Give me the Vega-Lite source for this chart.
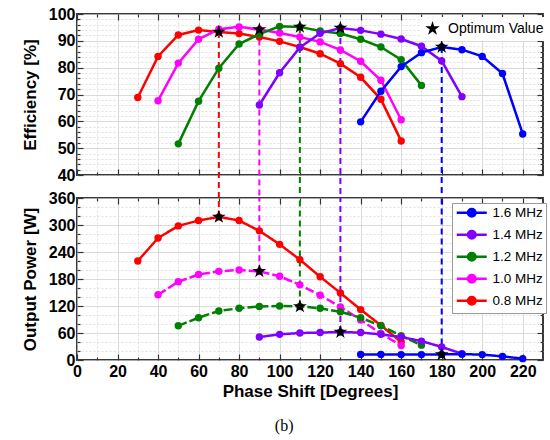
{
  "$schema": "https://vega.github.io/schema/vega-lite/v6.json",
  "padding": {"left": 20, "top": 5, "right": 4, "bottom": 5},
  "bounds": "flush",
  "spacing": 23,
  "title": {"text": "(b)", "orient": "bottom", "font": "Liberation Serif", "fontSize": 16, "fontWeight": "normal", "color": "black", "offset": 18, "anchor": "middle"},
  "datasets": {
    "d": [
      {"f": "0.8 MHz", "ph": 30, "eff": 68.9, "pw": 220},
      {"f": "0.8 MHz", "ph": 40, "eff": 84.2, "pw": 271},
      {"f": "0.8 MHz", "ph": 50, "eff": 92.2, "pw": 298},
      {"f": "0.8 MHz", "ph": 60, "eff": 94.0, "pw": 310},
      {"f": "0.8 MHz", "ph": 70, "eff": 93.3, "pw": 318},
      {"f": "0.8 MHz", "ph": 80, "eff": 92.7, "pw": 310},
      {"f": "0.8 MHz", "ph": 90, "eff": 91.4, "pw": 287},
      {"f": "0.8 MHz", "ph": 100, "eff": 89.8, "pw": 257},
      {"f": "0.8 MHz", "ph": 110, "eff": 87.7, "pw": 223},
      {"f": "0.8 MHz", "ph": 120, "eff": 85.2, "pw": 185},
      {"f": "0.8 MHz", "ph": 130, "eff": 81.5, "pw": 149},
      {"f": "0.8 MHz", "ph": 140, "eff": 76.4, "pw": 112},
      {"f": "0.8 MHz", "ph": 150, "eff": 68.2, "pw": 77},
      {"f": "0.8 MHz", "ph": 160, "eff": 52.7, "pw": 40},
      {"f": "1.0 MHz", "ph": 40, "eff": 67.7, "pw": 145},
      {"f": "1.0 MHz", "ph": 50, "eff": 81.7, "pw": 174},
      {"f": "1.0 MHz", "ph": 60, "eff": 90.6, "pw": 190},
      {"f": "1.0 MHz", "ph": 70, "eff": 94.3, "pw": 197},
      {"f": "1.0 MHz", "ph": 80, "eff": 95.2, "pw": 200},
      {"f": "1.0 MHz", "ph": 90, "eff": 94.2, "pw": 197},
      {"f": "1.0 MHz", "ph": 100, "eff": 92.9, "pw": 186},
      {"f": "1.0 MHz", "ph": 110, "eff": 91.4, "pw": 167},
      {"f": "1.0 MHz", "ph": 120, "eff": 89.6, "pw": 144},
      {"f": "1.0 MHz", "ph": 130, "eff": 86.6, "pw": 118},
      {"f": "1.0 MHz", "ph": 140, "eff": 82.4, "pw": 89},
      {"f": "1.0 MHz", "ph": 150, "eff": 75.3, "pw": 59},
      {"f": "1.0 MHz", "ph": 160, "eff": 60.6, "pw": 32},
      {"f": "1.2 MHz", "ph": 50, "eff": 51.6, "pw": 76},
      {"f": "1.2 MHz", "ph": 60, "eff": 67.5, "pw": 94},
      {"f": "1.2 MHz", "ph": 70, "eff": 79.8, "pw": 109},
      {"f": "1.2 MHz", "ph": 80, "eff": 88.8, "pw": 115},
      {"f": "1.2 MHz", "ph": 90, "eff": 92.5, "pw": 119},
      {"f": "1.2 MHz", "ph": 100, "eff": 95.4, "pw": 120},
      {"f": "1.2 MHz", "ph": 110, "eff": 95.2, "pw": 119},
      {"f": "1.2 MHz", "ph": 120, "eff": 93.7, "pw": 115},
      {"f": "1.2 MHz", "ph": 130, "eff": 92.7, "pw": 107},
      {"f": "1.2 MHz", "ph": 140, "eff": 90.6, "pw": 94},
      {"f": "1.2 MHz", "ph": 150, "eff": 87.7, "pw": 76},
      {"f": "1.2 MHz", "ph": 160, "eff": 83.0, "pw": 54},
      {"f": "1.2 MHz", "ph": 170, "eff": 73.4, "pw": 33},
      {"f": "1.4 MHz", "ph": 90, "eff": 66.1, "pw": 51},
      {"f": "1.4 MHz", "ph": 100, "eff": 78.1, "pw": 57},
      {"f": "1.4 MHz", "ph": 110, "eff": 87.5, "pw": 60},
      {"f": "1.4 MHz", "ph": 120, "eff": 92.8, "pw": 61},
      {"f": "1.4 MHz", "ph": 130, "eff": 94.8, "pw": 62},
      {"f": "1.4 MHz", "ph": 140, "eff": 93.9, "pw": 61},
      {"f": "1.4 MHz", "ph": 150, "eff": 92.5, "pw": 57},
      {"f": "1.4 MHz", "ph": 160, "eff": 90.7, "pw": 51},
      {"f": "1.4 MHz", "ph": 170, "eff": 88.0, "pw": 42},
      {"f": "1.4 MHz", "ph": 180, "eff": 82.5, "pw": 29},
      {"f": "1.4 MHz", "ph": 190, "eff": 69.2, "pw": 14},
      {"f": "1.6 MHz", "ph": 140, "eff": 59.8, "pw": 12.5},
      {"f": "1.6 MHz", "ph": 150, "eff": 71.2, "pw": 12.5},
      {"f": "1.6 MHz", "ph": 160, "eff": 80.4, "pw": 12},
      {"f": "1.6 MHz", "ph": 170, "eff": 85.6, "pw": 12},
      {"f": "1.6 MHz", "ph": 180, "eff": 87.7, "pw": 12.5},
      {"f": "1.6 MHz", "ph": 190, "eff": 86.7, "pw": 13},
      {"f": "1.6 MHz", "ph": 200, "eff": 84.2, "pw": 12},
      {"f": "1.6 MHz", "ph": 210, "eff": 77.8, "pw": 8},
      {"f": "1.6 MHz", "ph": 220, "eff": 55.3, "pw": 3}
    ],
    "opt": [
      {"f": "0.8 MHz", "ph": 70, "eff": 93.3, "pw": 318, "k": "Optimum Value"},
      {"f": "1.0 MHz", "ph": 90, "eff": 94.2, "pw": 197, "k": "Optimum Value"},
      {"f": "1.2 MHz", "ph": 110, "eff": 95.2, "pw": 119, "k": "Optimum Value"},
      {"f": "1.4 MHz", "ph": 130, "eff": 94.8, "pw": 62, "k": "Optimum Value"},
      {"f": "1.6 MHz", "ph": 180, "eff": 87.7, "pw": 12.5, "k": "Optimum Value"}
    ]
  },
  "resolve": {"scale": {"color": "shared"}, "legend": {"color": "independent", "shape": "independent"}},
  "vconcat": [
    {
      "width": 466,
      "height": 161,
      "layer": [
        {
          "data": {"name": "opt"},
          "mark": {"type": "rule", "strokeDash": [6, 4], "strokeWidth": 2},
          "encoding": {
            "x": {"field": "ph", "type": "quantitative", "scale": {"domain": [0, 230], "nice": false},
              "axis": {"orient": "top", "values": [0,10,20,30,40,50,60,70,80,90,100,110,120,130,140,150,160,170,180,190,200,210,220], "labels": false, "title": null, "grid": false,
                "tickSize": {"condition": {"test": "datum.value % 20 === 0", "value": -6}, "value": -3}}},
            "y": {"field": "eff", "type": "quantitative", "scale": {"domain": [40, 100], "nice": false, "zero": false},
              "axis": {"orient": "right", "values": [40,42,44,46,48,50,52,54,56,58,60,62,64,66,68,70,72,74,76,78,80,82,84,86,88,90,92,94,96,98,100], "labels": false, "title": null, "grid": false,
                "tickSize": {"condition": {"test": "datum.value % 10 === 0", "value": -6}, "value": -3}}},
            "y2": {"datum": 31.4},
            "color": {"field": "f", "type": "nominal", "scale": {"domain": ["1.6 MHz", "1.4 MHz", "1.2 MHz", "1.0 MHz", "0.8 MHz"], "range": ["#0000ff", "#8000ff", "#008000", "#ff00ff", "#ff0000"]}, "legend": null}
          }
        },
        {
          "data": {"name": "d"},
          "mark": {"type": "line", "strokeWidth": 2.5, "point": {"filled": true, "size": 55, "opacity": 1}},
          "encoding": {
            "x": {"field": "ph", "type": "quantitative", "scale": {"domain": [0, 230], "nice": false},
              "axis": {"orient": "bottom", "values": [0,10,20,30,40,50,60,70,80,90,100,110,120,130,140,150,160,170,180,190,200,210,220], "labels": false, "title": null, "grid": true,
                "gridColor": {"condition": {"test": "datum.value % 20 === 0", "value": "#cfcfcf"}, "value": "#e0e0e0"},
                "gridDash": {"condition": {"test": "datum.value % 20 === 0", "value": [1, 0]}, "value": [2, 2]},
                "tickSize": {"condition": {"test": "datum.value % 20 === 0", "value": -6}, "value": -3}}},
            "y": {"field": "eff", "type": "quantitative", "scale": {"domain": [40, 100], "nice": false, "zero": false},
              "axis": {"orient": "left", "values": [40,42,44,46,48,50,52,54,56,58,60,62,64,66,68,70,72,74,76,78,80,82,84,86,88,90,92,94,96,98,100], "title": "Efficiency [%]", "titlePadding": 9, "labelPadding": 8,
                "labelExpr": "datum.value % 10 === 0 ? datum.label : ''", "grid": true,
                "gridColor": {"condition": {"test": "datum.value % 10 === 0", "value": "#cfcfcf"}, "value": "#e0e0e0"},
                "gridDash": {"condition": {"test": "datum.value % 10 === 0", "value": [1, 0]}, "value": [2, 2]},
                "tickSize": {"condition": {"test": "datum.value % 10 === 0", "value": -6}, "value": -3}}},
            "color": {"field": "f", "type": "nominal", "scale": {"domain": ["1.6 MHz", "1.4 MHz", "1.2 MHz", "1.0 MHz", "0.8 MHz"], "range": ["#0000ff", "#8000ff", "#008000", "#ff00ff", "#ff0000"]}, "legend": null}
          }
        },
        {
          "data": {"name": "opt"},
          "mark": {"type": "point", "filled": true, "color": "black", "size": 210, "opacity": 1},
          "encoding": {
            "x": {"field": "ph", "type": "quantitative", "axis": null},
            "y": {"field": "eff", "type": "quantitative", "axis": null},
            "shape": {"field": "k", "type": "nominal",
              "scale": {"range": ["M0,-1L0.2245,-0.309L0.951,-0.309L0.363,0.118L0.588,0.809L0,0.382L-0.588,0.809L-0.363,0.118L-0.951,-0.309L-0.2245,-0.309Z"]},
              "legend": {"orient": "none", "legendX": 344, "legendY": 3, "title": null, "symbolSize": 230, "labelFont": "Liberation Sans", "labelFontSize": 14, "labelColor": "black", "fillColor": "white", "padding": 3, "labelOffset": 7,
                "encode": {"symbols": {"update": {"fill": {"value": "black"}, "stroke": {"value": "black"}}}}}}
          }
        }
      ],
      "resolve": {"axis": {"x": "independent", "y": "independent"}}
    },
    {
      "width": 466,
      "height": 162,
      "layer": [
        {
          "data": {"name": "opt"},
          "mark": {"type": "rule", "strokeDash": [6, 4], "strokeWidth": 2},
          "encoding": {
            "x": {"field": "ph", "type": "quantitative", "scale": {"domain": [0, 230], "nice": false},
              "axis": {"orient": "top", "values": [0,10,20,30,40,50,60,70,80,90,100,110,120,130,140,150,160,170,180,190,200,210,220], "labels": false, "title": null, "grid": false,
                "tickSize": {"condition": {"test": "datum.value % 20 === 0", "value": -6}, "value": -3}}},
            "y": {"field": "pw", "type": "quantitative", "scale": {"domain": [0, 360], "nice": false},
              "axis": {"orient": "right", "values": [0,20,40,60,80,100,120,140,160,180,200,220,240,260,280,300,320,340,360], "labels": false, "title": null, "grid": false,
                "tickSize": {"condition": {"test": "datum.value % 60 === 0", "value": -6}, "value": -3}}},
            "y2": {"datum": 360},
            "color": {"field": "f", "type": "nominal", "scale": {"domain": ["1.6 MHz", "1.4 MHz", "1.2 MHz", "1.0 MHz", "0.8 MHz"], "range": ["#0000ff", "#8000ff", "#008000", "#ff00ff", "#ff0000"]}}
          }
        },
        {
          "data": {"name": "d"},
          "mark": {"type": "line", "strokeWidth": 2.5, "point": {"filled": true, "size": 55, "opacity": 1}},
          "encoding": {
            "x": {"field": "ph", "type": "quantitative", "scale": {"domain": [0, 230], "nice": false},
              "axis": {"orient": "bottom", "values": [0,10,20,30,40,50,60,70,80,90,100,110,120,130,140,150,160,170,180,190,200,210,220], "title": "Phase Shift [Degrees]", "titlePadding": 1, "labelPadding": 9,
                "labelExpr": "datum.value % 20 === 0 ? datum.label : ''", "grid": true,
                "gridColor": {"condition": {"test": "datum.value % 20 === 0", "value": "#cfcfcf"}, "value": "#e0e0e0"},
                "gridDash": {"condition": {"test": "datum.value % 20 === 0", "value": [1, 0]}, "value": [2, 2]},
                "tickSize": {"condition": {"test": "datum.value % 20 === 0", "value": -6}, "value": -3}}},
            "y": {"field": "pw", "type": "quantitative", "scale": {"domain": [0, 360], "nice": false},
              "axis": {"orient": "left", "values": [0,20,40,60,80,100,120,140,160,180,200,220,240,260,280,300,320,340,360], "title": "Output Power [W]", "titlePadding": 9, "labelPadding": 8,
                "labelExpr": "datum.value % 60 === 0 ? datum.label : ''", "grid": true,
                "gridColor": {"condition": {"test": "datum.value % 60 === 0", "value": "#cfcfcf"}, "value": "#e0e0e0"},
                "gridDash": {"condition": {"test": "datum.value % 60 === 0", "value": [1, 0]}, "value": [2, 2]},
                "tickSize": {"condition": {"test": "datum.value % 60 === 0", "value": -6}, "value": -3}}},
            "color": {"field": "f", "type": "nominal", "scale": {"domain": ["1.6 MHz", "1.4 MHz", "1.2 MHz", "1.0 MHz", "0.8 MHz"], "range": ["#0000ff", "#8000ff", "#008000", "#ff00ff", "#ff0000"]},
              "legend": {"orient": "none", "legendX": 375, "legendY": 5, "title": null,
                "symbolType": "M-1,0H5M1.25,0A0.75,0.75 0 1,1 2.75,0A0.75,0.75 0 1,1 1.25,0Z", "symbolSize": 100, "symbolStrokeWidth": 2.5,
                "labelFont": "Liberation Sans", "labelFontSize": 13.5, "labelColor": "black", "labelOffset": 24, "rowPadding": 3,
                "padding": 3, "strokeColor": "#999", "fillColor": "white",
                "encode": {"symbols": {"update": {"fill": {"scale": "color", "field": "value"}, "stroke": {"scale": "color", "field": "value"}, "opacity": {"value": 1}}}}}},
            "strokeDash": {"field": "f", "type": "nominal", "scale": {"domain": ["1.6 MHz", "1.4 MHz", "1.2 MHz", "1.0 MHz", "0.8 MHz"], "range": [[1, 0], [1, 0], [9, 3], [9, 3], [1, 0]]}, "legend": null}
          }
        },
        {
          "data": {"name": "opt"},
          "mark": {"type": "point", "filled": true, "color": "black", "size": 210, "opacity": 1,
            "shape": "M0,-1L0.2245,-0.309L0.951,-0.309L0.363,0.118L0.588,0.809L0,0.382L-0.588,0.809L-0.363,0.118L-0.951,-0.309L-0.2245,-0.309Z"},
          "encoding": {
            "x": {"field": "ph", "type": "quantitative", "axis": null},
            "y": {"field": "pw", "type": "quantitative", "axis": null}
          }
        }
      ],
      "resolve": {"axis": {"x": "independent", "y": "independent"}}
    }
  ],
  "config": {
    "view": {"stroke": "#3a3a3a", "strokeWidth": 2},
    "axis": {"labelFont": "Liberation Sans", "labelFontSize": 16, "labelFontWeight": "bold", "labelColor": "black",
      "titleFont": "Liberation Sans", "titleFontSize": 17, "titleFontWeight": "bold", "titleColor": "black",
      "domain": false, "tickColor": "#333", "tickWidth": 1.2, "labelOverlap": false, "labelFlush": false}
  }
}
